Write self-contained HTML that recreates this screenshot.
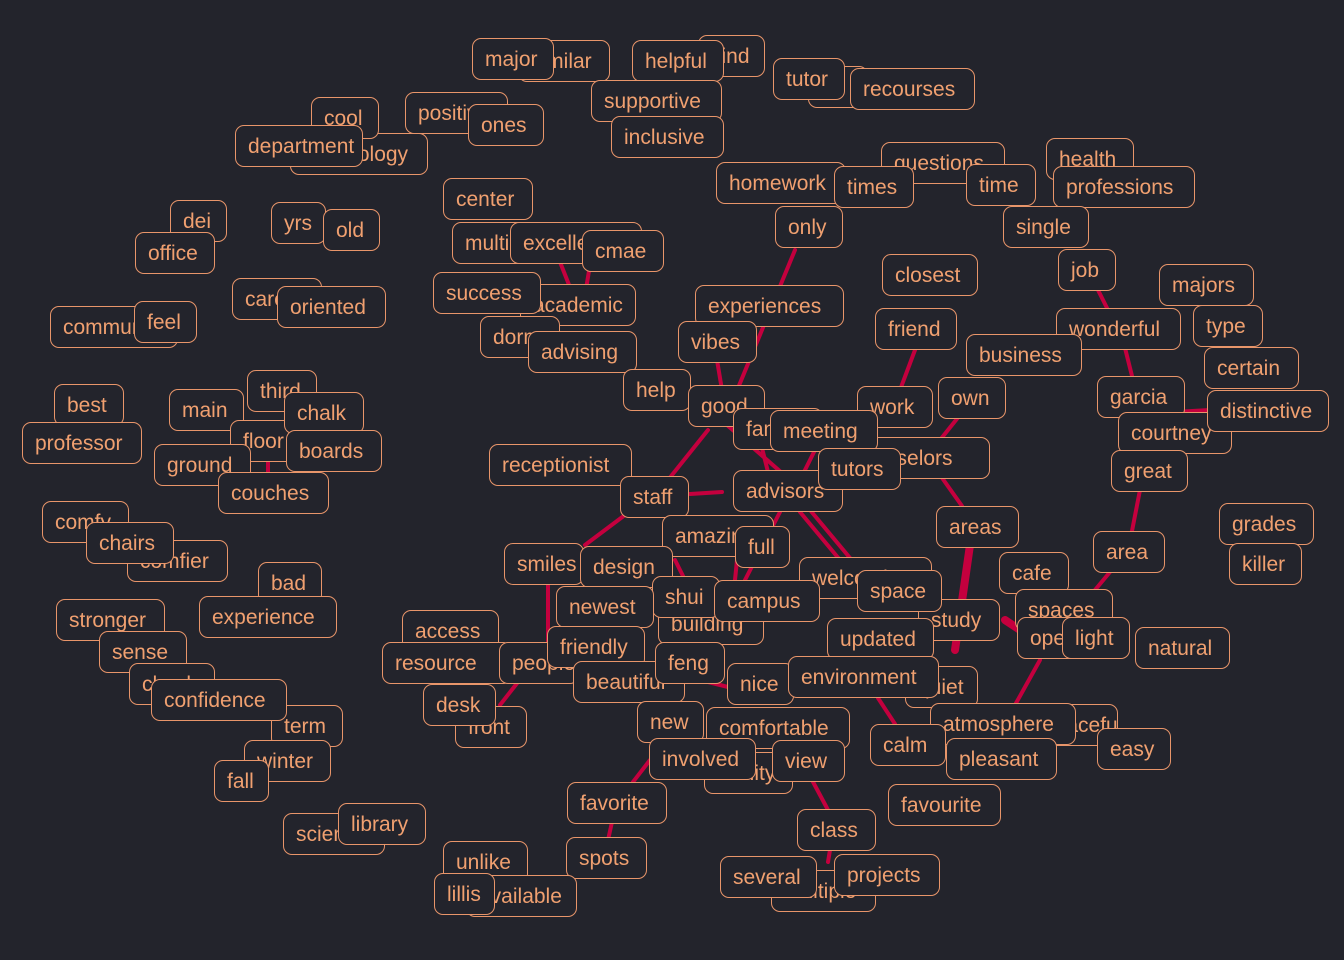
<!DOCTYPE html>
<html><head><style>
body{margin:0;width:1344px;height:960px;background:#23242c;overflow:hidden;position:relative;font-family:"Liberation Sans",sans-serif}
svg{position:absolute;left:0;top:0}
.b{position:absolute;height:42px;box-sizing:border-box;border:1.5px solid #e8956a;border-radius:9px;background:#23242c;color:#f0a070;font-size:21px;line-height:41px;padding:0 12px;white-space:nowrap;overflow:hidden}
</style></head><body>
<svg width="1344" height="960" stroke="#c4003e" stroke-width="4" stroke-linecap="round">
<line x1="795" y1="250" x2="738" y2="388"/>
<line x1="717" y1="360" x2="722" y2="390"/>
<line x1="727" y1="425" x2="790" y2="480"/>
<line x1="708" y1="430" x2="660" y2="490"/>
<line x1="690" y1="494" x2="722" y2="492"/>
<line x1="760" y1="440" x2="770" y2="480"/>
<line x1="820" y1="440" x2="800" y2="480"/>
<line x1="810" y1="510" x2="860" y2="570"/>
<line x1="800" y1="512" x2="840" y2="560"/>
<line x1="780" y1="512" x2="745" y2="580"/>
<line x1="625" y1="515" x2="585" y2="545"/>
<line x1="548" y1="585" x2="548" y2="650"/>
<line x1="915" y1="350" x2="900" y2="390"/>
<line x1="960" y1="415" x2="940" y2="440"/>
<line x1="940" y1="475" x2="962" y2="506"/>
<line x1="970" y1="545" x2="955" y2="650" stroke-width="8"/>
<line x1="1140" y1="490" x2="1132" y2="531"/>
<line x1="1110" y1="572" x2="1095" y2="590"/>
<line x1="1098" y1="290" x2="1108" y2="310"/>
<line x1="1125" y1="348" x2="1132" y2="376"/>
<line x1="560" y1="262" x2="575" y2="300"/>
<line x1="590" y1="265" x2="585" y2="295"/>
<line x1="268" y1="455" x2="268" y2="475"/>
<line x1="1040" y1="660" x2="1015" y2="705"/>
<line x1="1005" y1="620" x2="1020" y2="630" stroke-width="8"/>
<line x1="812" y1="780" x2="828" y2="810"/>
<line x1="830" y1="850" x2="828" y2="862"/>
<line x1="612" y1="822" x2="608" y2="840"/>
<line x1="633" y1="782" x2="650" y2="760"/>
<line x1="500" y1="705" x2="518" y2="682"/>
<line x1="878" y1="698" x2="895" y2="724"/>
<line x1="700" y1="680" x2="740" y2="690"/>
<line x1="740" y1="530" x2="735" y2="580"/>
<line x1="675" y1="560" x2="690" y2="590"/>
<line x1="1175" y1="412" x2="1210" y2="410"/>
</svg>
<div class="b" style="left:518px;top:40px;width:92px">similar</div>
<div class="b" style="left:472px;top:38px;width:82px">major</div>
<div class="b" style="left:698px;top:35px;width:67px">kind</div>
<div class="b" style="left:632px;top:40px;width:92px">helpful</div>
<div class="b" style="left:591px;top:80px;width:131px">supportive</div>
<div class="b" style="left:611px;top:116px;width:113px">inclusive</div>
<div class="b" style="left:808px;top:66px;width:60px">re</div>
<div class="b" style="left:773px;top:58px;width:72px">tutor</div>
<div class="b" style="left:850px;top:68px;width:125px">recourses</div>
<div class="b" style="left:290px;top:133px;width:138px">psychology</div>
<div class="b" style="left:311px;top:97px;width:68px">cool</div>
<div class="b" style="left:235px;top:125px;width:128px">department</div>
<div class="b" style="left:405px;top:92px;width:103px">positive</div>
<div class="b" style="left:468px;top:104px;width:76px">ones</div>
<div class="b" style="left:881px;top:142px;width:124px">questions</div>
<div class="b" style="left:716px;top:162px;width:130px">homework</div>
<div class="b" style="left:834px;top:166px;width:80px">times</div>
<div class="b" style="left:966px;top:164px;width:70px">time</div>
<div class="b" style="left:1046px;top:138px;width:88px">health</div>
<div class="b" style="left:1053px;top:166px;width:142px">professions</div>
<div class="b" style="left:443px;top:178px;width:90px">center</div>
<div class="b" style="left:271px;top:202px;width:55px">yrs</div>
<div class="b" style="left:323px;top:209px;width:57px">old</div>
<div class="b" style="left:170px;top:200px;width:57px">dei</div>
<div class="b" style="left:135px;top:232px;width:80px">office</div>
<div class="b" style="left:775px;top:206px;width:68px">only</div>
<div class="b" style="left:1003px;top:206px;width:86px">single</div>
<div class="b" style="left:452px;top:222px;width:100px">multi</div>
<div class="b" style="left:510px;top:222px;width:132px">excellent</div>
<div class="b" style="left:582px;top:230px;width:82px">cmae</div>
<div class="b" style="left:882px;top:254px;width:96px">closest</div>
<div class="b" style="left:1058px;top:249px;width:58px">job</div>
<div class="b" style="left:1159px;top:264px;width:95px">majors</div>
<div class="b" style="left:232px;top:278px;width:90px">career</div>
<div class="b" style="left:277px;top:286px;width:109px">oriented</div>
<div class="b" style="left:520px;top:284px;width:116px">academic</div>
<div class="b" style="left:433px;top:272px;width:108px">success</div>
<div class="b" style="left:50px;top:306px;width:128px">community</div>
<div class="b" style="left:134px;top:301px;width:63px">feel</div>
<div class="b" style="left:695px;top:285px;width:149px">experiences</div>
<div class="b" style="left:875px;top:308px;width:82px">friend</div>
<div class="b" style="left:1056px;top:308px;width:125px">wonderful</div>
<div class="b" style="left:1193px;top:305px;width:70px">type</div>
<div class="b" style="left:480px;top:316px;width:80px">dorm</div>
<div class="b" style="left:528px;top:331px;width:109px">advising</div>
<div class="b" style="left:678px;top:321px;width:79px">vibes</div>
<div class="b" style="left:966px;top:334px;width:116px">business</div>
<div class="b" style="left:1204px;top:347px;width:95px">certain</div>
<div class="b" style="left:54px;top:384px;width:70px">best</div>
<div class="b" style="left:22px;top:422px;width:120px">professor</div>
<div class="b" style="left:169px;top:389px;width:75px">main</div>
<div class="b" style="left:247px;top:370px;width:70px">third</div>
<div class="b" style="left:230px;top:420px;width:70px">floor</div>
<div class="b" style="left:284px;top:392px;width:80px">chalk</div>
<div class="b" style="left:286px;top:430px;width:96px">boards</div>
<div class="b" style="left:623px;top:369px;width:68px">help</div>
<div class="b" style="left:688px;top:385px;width:77px">good</div>
<div class="b" style="left:1097px;top:376px;width:88px">garcia</div>
<div class="b" style="left:1118px;top:412px;width:114px">courtney</div>
<div class="b" style="left:1207px;top:390px;width:122px">distinctive</div>
<div class="b" style="left:857px;top:386px;width:76px">work</div>
<div class="b" style="left:938px;top:377px;width:68px">own</div>
<div class="b" style="left:733px;top:408px;width:90px">family</div>
<div class="b" style="left:838px;top:437px;width:152px">counselors</div>
<div class="b" style="left:770px;top:410px;width:108px">meeting</div>
<div class="b" style="left:489px;top:444px;width:143px">receptionist</div>
<div class="b" style="left:154px;top:444px;width:97px">ground</div>
<div class="b" style="left:218px;top:472px;width:111px">couches</div>
<div class="b" style="left:733px;top:470px;width:110px">advisors</div>
<div class="b" style="left:818px;top:448px;width:83px">tutors</div>
<div class="b" style="left:620px;top:476px;width:69px">staff</div>
<div class="b" style="left:1111px;top:450px;width:77px">great</div>
<div class="b" style="left:42px;top:501px;width:87px">comfy</div>
<div class="b" style="left:127px;top:540px;width:101px">comfier</div>
<div class="b" style="left:86px;top:522px;width:88px">chairs</div>
<div class="b" style="left:936px;top:506px;width:83px">areas</div>
<div class="b" style="left:1219px;top:503px;width:95px">grades</div>
<div class="b" style="left:662px;top:515px;width:112px">amazing</div>
<div class="b" style="left:735px;top:526px;width:55px">full</div>
<div class="b" style="left:1093px;top:531px;width:72px">area</div>
<div class="b" style="left:504px;top:543px;width:80px">smiles</div>
<div class="b" style="left:580px;top:546px;width:93px">design</div>
<div class="b" style="left:258px;top:562px;width:64px">bad</div>
<div class="b" style="left:199px;top:596px;width:138px">experience</div>
<div class="b" style="left:999px;top:552px;width:70px">cafe</div>
<div class="b" style="left:1229px;top:543px;width:73px">killer</div>
<div class="b" style="left:799px;top:557px;width:133px">welcoming</div>
<div class="b" style="left:1015px;top:589px;width:98px">spaces</div>
<div class="b" style="left:918px;top:599px;width:82px">study</div>
<div class="b" style="left:857px;top:570px;width:85px">space</div>
<div class="b" style="left:658px;top:603px;width:106px">building</div>
<div class="b" style="left:652px;top:576px;width:68px">shui</div>
<div class="b" style="left:556px;top:586px;width:98px">newest</div>
<div class="b" style="left:714px;top:580px;width:106px">campus</div>
<div class="b" style="left:56px;top:599px;width:109px">stronger</div>
<div class="b" style="left:99px;top:631px;width:88px">sense</div>
<div class="b" style="left:402px;top:610px;width:97px">access</div>
<div class="b" style="left:382px;top:642px;width:130px">resource</div>
<div class="b" style="left:1017px;top:617px;width:80px">open</div>
<div class="b" style="left:1062px;top:617px;width:68px">light</div>
<div class="b" style="left:1135px;top:627px;width:95px">natural</div>
<div class="b" style="left:499px;top:642px;width:80px">people</div>
<div class="b" style="left:547px;top:626px;width:98px">friendly</div>
<div class="b" style="left:827px;top:618px;width:107px">updated</div>
<div class="b" style="left:573px;top:661px;width:112px">beautiful</div>
<div class="b" style="left:655px;top:642px;width:70px">feng</div>
<div class="b" style="left:905px;top:666px;width:73px">quiet</div>
<div class="b" style="left:727px;top:663px;width:67px">nice</div>
<div class="b" style="left:788px;top:656px;width:151px">environment</div>
<div class="b" style="left:129px;top:663px;width:86px">check</div>
<div class="b" style="left:271px;top:705px;width:72px">term</div>
<div class="b" style="left:151px;top:679px;width:136px">confidence</div>
<div class="b" style="left:455px;top:706px;width:72px">front</div>
<div class="b" style="left:423px;top:684px;width:73px">desk</div>
<div class="b" style="left:637px;top:701px;width:67px">new</div>
<div class="b" style="left:706px;top:707px;width:144px">comfortable</div>
<div class="b" style="left:1030px;top:704px;width:88px">peaceful</div>
<div class="b" style="left:930px;top:703px;width:146px">atmosphere</div>
<div class="b" style="left:1097px;top:728px;width:74px">easy</div>
<div class="b" style="left:244px;top:740px;width:87px">winter</div>
<div class="b" style="left:214px;top:760px;width:55px">fall</div>
<div class="b" style="left:870px;top:724px;width:76px">calm</div>
<div class="b" style="left:946px;top:738px;width:111px">pleasant</div>
<div class="b" style="left:704px;top:752px;width:89px">facility</div>
<div class="b" style="left:772px;top:740px;width:73px">view</div>
<div class="b" style="left:649px;top:738px;width:107px">involved</div>
<div class="b" style="left:888px;top:784px;width:113px">favourite</div>
<div class="b" style="left:567px;top:782px;width:100px">favorite</div>
<div class="b" style="left:283px;top:813px;width:102px">science</div>
<div class="b" style="left:338px;top:803px;width:88px">library</div>
<div class="b" style="left:797px;top:809px;width:79px">class</div>
<div class="b" style="left:443px;top:841px;width:85px">unlike</div>
<div class="b" style="left:566px;top:837px;width:81px">spots</div>
<div class="b" style="left:466px;top:875px;width:111px">available</div>
<div class="b" style="left:434px;top:873px;width:61px">lillis</div>
<div class="b" style="left:771px;top:870px;width:105px">multiple</div>
<div class="b" style="left:720px;top:856px;width:97px">several</div>
<div class="b" style="left:834px;top:854px;width:106px">projects</div>
</body></html>
